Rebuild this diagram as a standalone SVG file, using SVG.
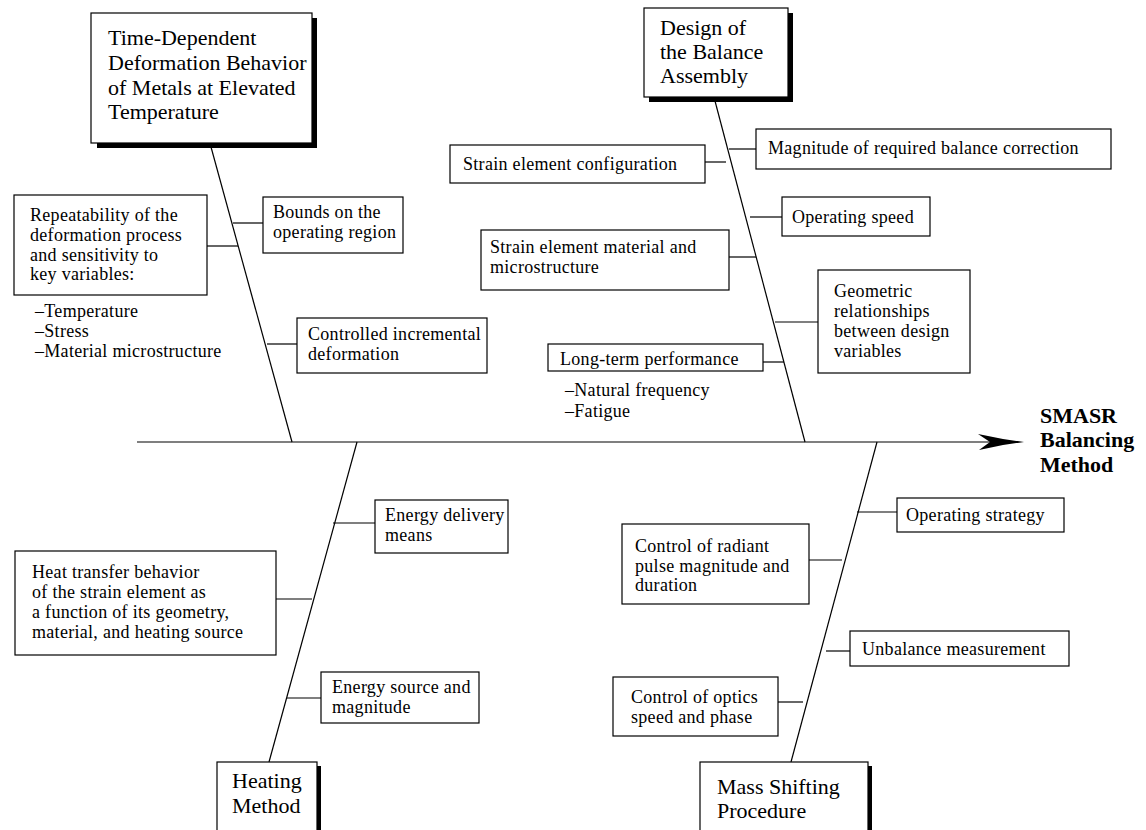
<svg xmlns="http://www.w3.org/2000/svg" width="1146" height="830" viewBox="0 0 1146 830">
<style>
.box{fill:#fff;stroke:#000;stroke-width:1.2}
.sh{fill:#000}
.t{font-family:"Liberation Serif","Times New Roman",serif;font-size:18px;letter-spacing:0.3px;fill:#000}
.h{font-family:"Liberation Serif","Times New Roman",serif;font-size:22px;fill:#000}
.b{font-family:"Liberation Serif","Times New Roman",serif;font-size:22px;font-weight:bold;fill:#000}
.ln{stroke:#000;stroke-width:1.2;fill:none}
</style>
<rect width="1146" height="830" fill="#fff"/>
<g id="connectors">
<line class="ln" x1="137" y1="442" x2="990" y2="442"/>
<polygon points="978,434 1003,439 1024,442 1003,445 979,450 990,442" fill="#000"/>
<line class="ln" x1="211" y1="147" x2="292" y2="442"/>
<line class="ln" x1="715" y1="101" x2="805" y2="442"/>
<line class="ln" x1="357" y1="442" x2="269" y2="762"/>
<line class="ln" x1="877" y1="442" x2="791" y2="762"/>
<line class="ln" x1="233" y1="223" x2="263" y2="223"/>
<line class="ln" x1="207" y1="246" x2="238" y2="246"/>
<line class="ln" x1="267" y1="344" x2="297" y2="344"/>
<line class="ln" x1="729" y1="149" x2="756" y2="149"/>
<line class="ln" x1="705" y1="162" x2="726" y2="162"/>
<line class="ln" x1="750" y1="217" x2="782" y2="217"/>
<line class="ln" x1="729" y1="257" x2="756" y2="257"/>
<line class="ln" x1="775" y1="322" x2="818" y2="322"/>
<line class="ln" x1="763" y1="362" x2="784" y2="362"/>
<line class="ln" x1="333" y1="523" x2="375" y2="523"/>
<line class="ln" x1="276" y1="599" x2="312" y2="599"/>
<line class="ln" x1="287" y1="698" x2="321" y2="698"/>
<line class="ln" x1="857" y1="512" x2="897" y2="512"/>
<line class="ln" x1="809" y1="560" x2="842" y2="560"/>
<line class="ln" x1="826" y1="651" x2="850" y2="651"/>
<line class="ln" x1="778" y1="702" x2="803" y2="702"/>
</g>
<g id="cat-time">
<rect class="sh" x="97" y="18" width="220" height="130"/>
<rect class="box" x="91" y="13" width="221" height="130"/>
<text class="h" x="108" y="45">Time-Dependent</text>
<text class="h" x="108" y="70">Deformation Behavior</text>
<text class="h" x="108" y="95">of Metals at Elevated</text>
<text class="h" x="108" y="119">Temperature</text>
</g>
<g id="cat-design">
<rect class="sh" x="649" y="13" width="144" height="89"/>
<rect class="box" x="644" y="8" width="144" height="89"/>
<text class="h" x="660" y="35">Design of</text>
<text class="h" x="660" y="59">the Balance</text>
<text class="h" x="660" y="83">Assembly</text>
</g>
<g id="cat-heating">
<rect class="sh" x="221" y="766" width="100" height="70"/>
<rect class="box" x="217" y="762" width="100" height="70"/>
<text class="h" x="232" y="788">Heating</text>
<text class="h" x="232" y="813">Method</text>
</g>
<g id="cat-mass">
<rect class="sh" x="704" y="766" width="168" height="70"/>
<rect class="box" x="700" y="762" width="168" height="70"/>
<text class="h" x="717" y="794">Mass Shifting</text>
<text class="h" x="717" y="818">Procedure</text>
</g>
<g id="effect">
<text class="b" x="1040" y="423">SMASR</text>
<text class="b" x="1040" y="447">Balancing</text>
<text class="b" x="1040" y="472">Method</text>
</g>
<g id="bounds">
<rect class="box" x="263" y="197" width="140" height="56"/>
<text class="t" x="273" y="218">Bounds on the</text>
<text class="t" x="273" y="238">operating region</text>
</g>
<g id="repeat">
<rect class="box" x="14" y="195" width="193" height="100"/>
<text class="t" x="30" y="221">Repeatability of the</text>
<text class="t" x="30" y="241">deformation process</text>
<text class="t" x="30" y="261">and sensitivity to</text>
<text class="t" x="30" y="280">key variables:</text>
<text class="t" x="35" y="317">–Temperature</text>
<text class="t" x="35" y="337">–Stress</text>
<text class="t" x="35" y="357">–Material microstructure</text>
</g>
<g id="controlled">
<rect class="box" x="297" y="318" width="190" height="55"/>
<text class="t" x="308" y="340">Controlled incremental</text>
<text class="t" x="308" y="360">deformation</text>
</g>
<g id="strain-config">
<rect class="box" x="450" y="145" width="255" height="38"/>
<text class="t" x="463" y="170">Strain element configuration</text>
</g>
<g id="magnitude">
<rect class="box" x="756" y="129" width="355" height="40"/>
<text class="t" x="768" y="154">Magnitude of required balance correction</text>
</g>
<g id="op-speed">
<rect class="box" x="782" y="197" width="148" height="39"/>
<text class="t" x="792" y="223">Operating speed</text>
</g>
<g id="strain-material">
<rect class="box" x="481" y="230" width="248" height="60"/>
<text class="t" x="490" y="253">Strain element material and</text>
<text class="t" x="490" y="273">microstructure</text>
</g>
<g id="geometric">
<rect class="box" x="818" y="270" width="152" height="103"/>
<text class="t" x="834" y="297">Geometric</text>
<text class="t" x="834" y="317">relationships</text>
<text class="t" x="834" y="337">between design</text>
<text class="t" x="834" y="357">variables</text>
</g>
<g id="longterm">
<rect class="box" x="548" y="344" width="215" height="27"/>
<text class="t" x="560" y="365">Long-term performance</text>
<text class="t" x="565" y="396">–Natural frequency</text>
<text class="t" x="565" y="417">–Fatigue</text>
</g>
<g id="energy-delivery">
<rect class="box" x="375" y="500" width="133" height="53"/>
<text class="t" x="385" y="521">Energy delivery</text>
<text class="t" x="385" y="541">means</text>
</g>
<g id="heat-transfer">
<rect class="box" x="15" y="551" width="261" height="104"/>
<text class="t" x="32" y="578">Heat transfer behavior</text>
<text class="t" x="32" y="598">of the strain element as</text>
<text class="t" x="32" y="618">a function of its geometry,</text>
<text class="t" x="32" y="638">material, and heating source</text>
</g>
<g id="energy-source">
<rect class="box" x="321" y="672" width="158" height="51"/>
<text class="t" x="332" y="693">Energy source and</text>
<text class="t" x="332" y="713">magnitude</text>
</g>
<g id="op-strategy">
<rect class="box" x="897" y="498" width="167" height="34"/>
<text class="t" x="906" y="521">Operating strategy</text>
</g>
<g id="radiant">
<rect class="box" x="622" y="524" width="187" height="80"/>
<text class="t" x="635" y="552">Control of radiant</text>
<text class="t" x="635" y="572">pulse magnitude and</text>
<text class="t" x="635" y="591">duration</text>
</g>
<g id="unbalance">
<rect class="box" x="850" y="631" width="219" height="35"/>
<text class="t" x="862" y="655">Unbalance measurement</text>
</g>
<g id="optics">
<rect class="box" x="613" y="677" width="165" height="59"/>
<text class="t" x="631" y="703">Control of optics</text>
<text class="t" x="631" y="723">speed and phase</text>
</g>
</svg>
